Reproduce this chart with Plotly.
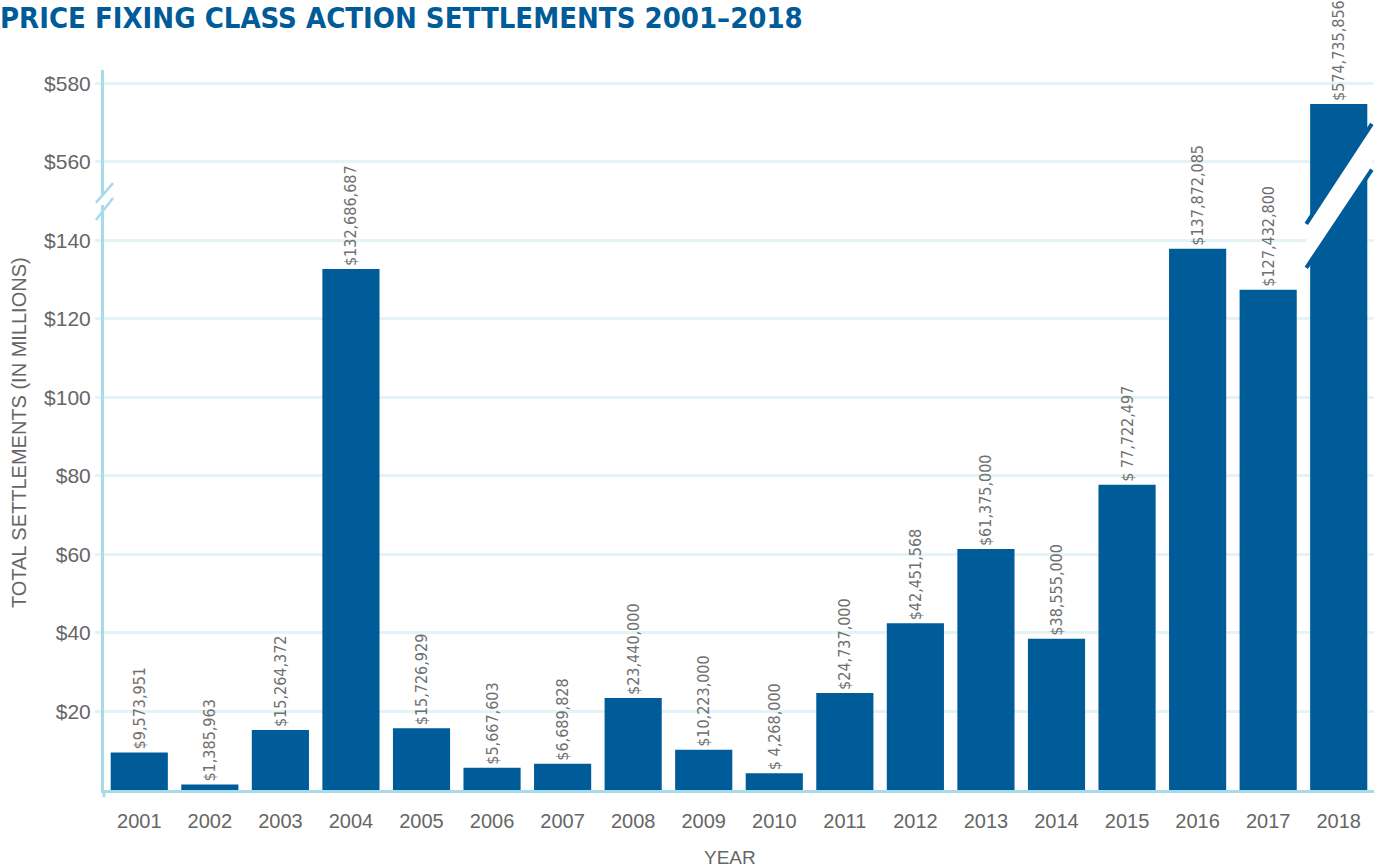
import plotly.graph_objects as go

# Settlement totals by year (US dollars)
years = ["2001", "2002", "2003", "2004", "2005", "2006", "2007", "2008", "2009",
         "2010", "2011", "2012", "2013", "2014", "2015", "2016", "2017", "2018"]
settlements = [9573951, 1385963, 15264372, 132686687, 15726929, 5667603, 6689828,
               23440000, 10223000, 4268000, 24737000, 42451568, 61375000, 38555000,
               77722497, 137872085, 127432800, 574735856]
bar_labels = ["$9,573,951", "$1,385,963", "$15,264,372", "$132,686,687", "$15,726,929",
              "$5,667,603", "$6,689,828", "$23,440,000", "$10,223,000", "$ 4,268,000",
              "$24,737,000", "$42,451,568", "$61,375,000", "$38,555,000", "$ 77,722,497",
              "$137,872,085", "$127,432,800", "$574,735,856"]

# Broken value axis: everything above the break is shifted down by this amount
BREAK_SHIFT = 400
tick_vals = [20, 40, 60, 80, 100, 120, 140, 160, 180]
tick_text = ["$20", "$40", "$60", "$80", "$100", "$120", "$140", "$560", "$580"]

millions = [v / 1e6 for v in settlements]
plotted = [m - BREAK_SHIFT if m > 150 else m for m in millions]

BLUE = "#005b99"
AXIS = "#a6dbea"
GRID = "#e4f3f8"
GREY = "#666666"
NARROW = "DejaVu Sans Condensed, Liberation Sans Narrow"
PLAIN = "Liberation Sans, Arial"

fig = go.Figure(go.Bar(
    x=years, y=plotted, marker_color=BLUE, marker_line_width=0,
    text=bar_labels, textposition="outside", textangle=-90,
    constraintext="none", cliponaxis=False,
    textfont=dict(family=NARROW, size=16, color="#707070"),
))

shapes = []
# Break marks on the value axis
shapes.append(dict(type="rect", xref="paper", yref="y", x0=-0.004, x1=0.004,
                   y0=149.0, y1=151.6, fillcolor="white", line_width=0, layer="above"))
for y0, y1 in [(149.6, 154.6), (145.2, 150.8)]:
    shapes.append(dict(type="line", xref="paper", yref="y", x0=-0.0063, x1=0.0071,
                       y0=y0, y1=y1, line=dict(color=AXIS, width=2.5), layer="above"))

# Break across the 2018 bar
shapes.append(dict(type="path", xref="x", yref="y",
                   path="M 16.54 144.2 L 17.47 169.7 L 17.47 158.0 L 16.54 133.0 Z",
                   fillcolor="white", line_width=0, layer="above"))
for y0, y1 in [(144.2, 169.7), (133.0, 158.0)]:
    shapes.append(dict(type="line", xref="x", yref="y", x0=16.54, x1=17.47,
                       y0=y0, y1=y1, line=dict(color=BLUE, width=4), layer="above"))

# Short downward extension of the value axis below the baseline
shapes.append(dict(type="line", xref="paper", yref="paper", x0=0.0, x1=0.0,
                   y0=0, y1=-0.01, line=dict(color=AXIS, width=3)))

fig.update_layout(
    width=1374, height=867,
    margin=dict(l=104, r=0, t=70, b=77),
    plot_bgcolor="white", paper_bgcolor="white",
    bargap=0.19, showlegend=False, shapes=shapes,
    title=dict(text="<b>PRICE FIXING CLASS ACTION SETTLEMENTS 2001–2018</b>",
               xref="container", yref="container", x=0.0, xanchor="left",
               y=1 - 18 / 867, yanchor="middle",
               font=dict(family=NARROW, size=29, color=BLUE)),
    annotations=[
        dict(text="TOTAL SETTLEMENTS (IN MILLIONS)", xref="paper", yref="paper",
             x=-0.0772, y=0.497, textangle=-90, showarrow=False,
             font=dict(family=PLAIN, size=20, color=GREY)),
        dict(text="YEAR", xref="paper", yref="paper", x=0.493, y=0, yshift=-67,
             yanchor="middle", showarrow=False,
             font=dict(family=PLAIN, size=19, color=GREY)),
    ],
)

fig.update_xaxes(
    showline=True, linecolor=AXIS, linewidth=3, ticks="", showgrid=False,
    ticklabelstandoff=11,
    tickfont=dict(family=PLAIN, size=20, color=GREY),
)
fig.update_yaxes(
    range=[0, 183.4], tickvals=tick_vals, ticktext=tick_text,
    showline=True, linecolor=AXIS, linewidth=3,
    showgrid=True, gridcolor=GRID, gridwidth=2.5, zeroline=False,
    ticks="outside", ticklen=6, tickcolor=GRID, tickwidth=2.5,
    tickfont=dict(family=PLAIN, size=21, color=GREY),
)

fig.write_html("out.html")
